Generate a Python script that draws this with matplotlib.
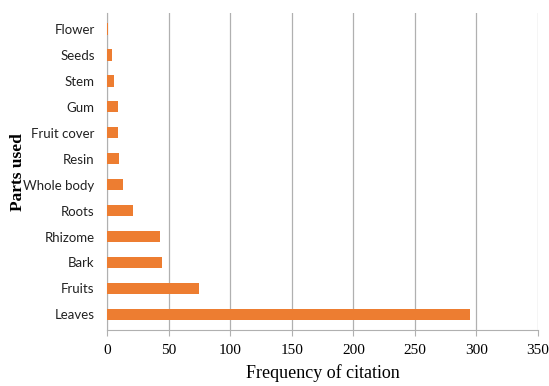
import matplotlib.pyplot as plt

parts = ["Leaves", "Fruits", "Bark", "Rhizome", "Roots", "Whole body",
         "Resin", "Fruit cover", "Gum", "Stem", "Seeds", "Flower"]
counts = [295, 75, 45, 43, 21, 13, 10, 9, 9, 6, 4, 1]

fig = plt.figure(figsize=(5.49, 3.86), dpi=100)
ax = fig.add_axes([0.195, 0.145, 0.785, 0.821])

ax.barh(range(len(parts)), counts, height=0.45, color="#ED7D31", zorder=3)
ax.set_xlim(0, 350)
ax.set_ylim(-0.6, len(parts) - 0.4)
ax.set_xticks(range(0, 351, 50))
ax.set_yticks(range(len(parts)))
ax.set_yticklabels(parts, family="Lato", fontsize=9.5, color="#222222")
for lbl in ax.get_xticklabels():
    lbl.set_family("Liberation Serif")
    lbl.set_fontsize(11)

ax.grid(axis="x", color="#b0b0b0", linewidth=0.9, zorder=0)
for side in ("top", "right"):
    ax.spines[side].set_visible(False)
ax.spines["left"].set_color("#b0b0b0")
ax.spines["bottom"].set_color("#b0b0b0")
ax.tick_params(axis="y", length=0, pad=9)
ax.tick_params(axis="x", length=4, color="#b0b0b0", pad=6)

ax.set_xlabel("Frequency of citation", family="Liberation Serif", fontsize=13, labelpad=5)
fig.text(0.032, 0.555, "Parts used", family="Liberation Serif", fontsize=12.5,
         fontweight="bold", rotation=90, ha="center", va="center")

fig.savefig("out.png", dpi=100)
